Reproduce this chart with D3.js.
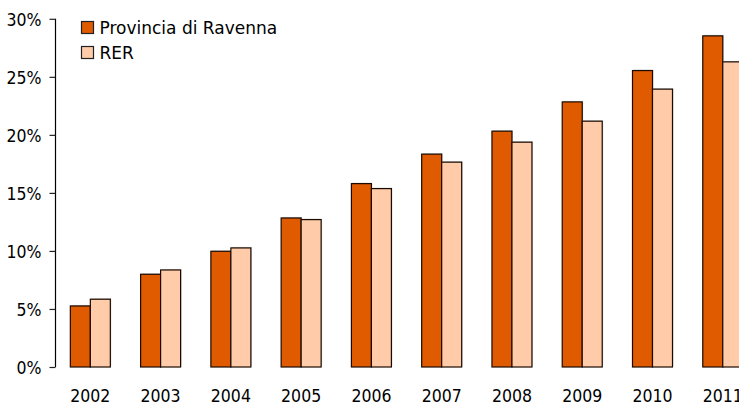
<!DOCTYPE html>
<html>
<head>
<meta charset="utf-8">
<script src="https://cdn.jsdelivr.net/npm/d3@7"></script>
<style>
  html, body { margin: 0; padding: 0; background: #fff; }
  svg { display: block; }
  .tick-lbl { font-family: "DejaVu Sans Condensed", "DejaVu Sans", sans-serif; font-stretch: condensed; font-size: 17.5px; fill: #000; }
  .leg-lbl { font-family: "DejaVu Sans", sans-serif; font-size: 17px; fill: #000; }
</style>
</head>
<body>
<svg id="chart" width="739" height="406"></svg>
<script>
// Share of foreign residents, Ravenna province vs Emilia-Romagna region
const years = ["2002","2003","2004","2005","2006","2007","2008","2009","2010","2011"];
const ravenna = [5.26, 7.99, 9.97, 12.84, 15.8, 18.34, 20.32, 22.84, 25.54, 28.53];
const rer     = [5.84, 8.36, 10.26, 12.7, 15.37, 17.65, 19.37, 21.18, 23.94, 26.29];
const seriesNames = ["Provincia di Ravenna", "RER"];
const seriesColors = ["#E05A00", "#FFCBA8"];
const yTicks = [0, 5, 10, 15, 20, 25, 30];

const svg = d3.select("#chart");

const x = d3.scaleBand().domain(years).range([55.2, 55.2 + 70.27 * years.length]).padding(0);
const y = d3.scaleLinear().domain([0, 30]).range([367, 18.8]);
const barW = 20;

// y axis
const yAxis = d3.axisLeft(y).tickValues(yTicks).tickFormat(d => d + "%").tickSize(6).tickPadding(8);
const gy = svg.append("g").attr("transform", "translate(55.5,0)").call(yAxis);
gy.select(".domain").attr("stroke", "#000").attr("stroke-width", 1.2).attr("d", `M0,${y(30)}V${y(0)}`);
gy.selectAll(".tick line").attr("stroke", "#222").attr("stroke-width", 1.2);
gy.selectAll(".tick text").attr("class", "tick-lbl").attr("dy", "0.36em");

// bars
const data = years.map((yr, i) => ({ yr, vals: [ravenna[i], rer[i]] }));
const groups = svg.append("g").selectAll("g").data(data).join("g")
  .attr("transform", d => `translate(${x(d.yr) + x.bandwidth() / 2 - barW},0)`);

groups.each(function(d) {
  const g = d3.select(this);
  d.vals.forEach((v, k) => {
    // soft shadow
    g.append("rect")
      .attr("x", k * barW + 1).attr("y", y(v) - 1)
      .attr("width", barW).attr("height", y(0) - y(v))
      .attr("fill", "#c8c8c8").attr("opacity", 0.7);
    g.append("rect")
      .attr("x", k * barW).attr("y", y(v))
      .attr("width", barW).attr("height", y(0) - y(v))
      .attr("fill", seriesColors[k]).attr("stroke", "#1a0a00").attr("stroke-width", 1.2);
  });
});

// x labels
svg.append("g").selectAll("text").data(years).join("text")
  .attr("class", "tick-lbl")
  .attr("x", d => x(d) + x.bandwidth() / 2)
  .attr("y", 402)
  .attr("text-anchor", "middle")
  .text(d => d);

// legend
const leg = svg.append("g").selectAll("g").data(seriesNames).join("g")
  .attr("transform", (d, i) => `translate(81.5,${21.5 + i * 25})`);
leg.append("rect").attr("width", 12).attr("height", 12)
  .attr("fill", (d, i) => seriesColors[i]).attr("stroke", "#222").attr("stroke-width", 1.2);
leg.append("text").attr("class", "leg-lbl").attr("x", 18).attr("y", 12.5).text(d => d);
</script>
</body>
</html>
